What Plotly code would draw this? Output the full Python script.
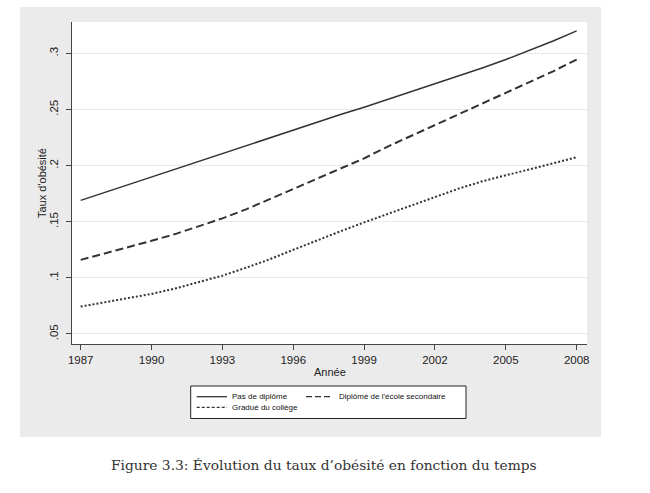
import plotly.graph_objects as go

years = list(range(1987, 2009))
pas_de_diplome = [0.169, 0.176, 0.183, 0.190, 0.197, 0.2035, 0.2105, 0.2175, 0.2245, 0.2315, 0.2385,
                  0.2455, 0.252, 0.259, 0.2655, 0.2725, 0.2795, 0.287, 0.2945, 0.3025, 0.311, 0.320]
diplome_secondaire = [0.116, 0.1215, 0.127, 0.133, 0.139, 0.146, 0.153, 0.161, 0.170, 0.179, 0.188,
                      0.197, 0.2065, 0.217, 0.2265, 0.236, 0.2455, 0.255, 0.2645, 0.274, 0.284, 0.2945]
gradue_college = [0.0744, 0.078, 0.0815, 0.0857, 0.0905, 0.096, 0.102, 0.109, 0.1165, 0.125, 0.1335,
                  0.1415, 0.1494, 0.157, 0.165, 0.1726, 0.1795, 0.186, 0.1915, 0.1965, 0.202, 0.2074]

series_names = ["Pas de diplôme", "Diplômé de l'école secondaire", "Gradué du collège"]
x_ticks = [1987, 1990, 1993, 1996, 1999, 2002, 2005, 2008]
y_ticks = [0.05, 0.1, 0.15, 0.2, 0.25, 0.3]
y_tick_labels = [".05", ".1", ".15", ".2", ".25", ".3"]

LINE = "#333333"
SANS = "Liberation Sans, Arial, sans-serif"
styles = [dict(color=LINE, width=1.5, dash="solid"),
          dict(color=LINE, width=2, dash="8px,4px"),
          dict(color=LINE, width=2, dash="2px,2px")]

fig = go.Figure()
for name, vals, st in zip(series_names, [pas_de_diplome, diplome_secondaire, gradue_college], styles):
    fig.add_trace(go.Scatter(x=years, y=vals, mode="lines", name=name, line=st, showlegend=False))

L, R, T, B = 72, 63, 22, 149
PW = 650 - L - R
PH = 493 - T - B


def px_x(px):
    return (px - L) / PW


def px_y(py):
    return (493 - B - py) / PH


# legend (drawn manually to get Stata's compact two-column box)
leg_items = [  # (name index, line x0, line x1, text x, row y, legend dash)
    (0, 196.7, 227, 230, 396.7, "solid"),
    (1, 306, 333, 337, 396.7, "6px,3px"),
    (2, 196.7, 227, 230, 407.3, "3px,2px"),
]
shapes = [
    dict(type="rect", xref="paper", yref="paper", x0=px_x(20), x1=px_x(601), y0=px_y(437), y1=px_y(7),
         fillcolor="#ebebeb", line=dict(width=0), layer="below"),
    dict(type="rect", xref="x domain", yref="y domain", x0=0, x1=1, y0=0, y1=1,
         fillcolor="white", line=dict(width=0), layer="below"),
    dict(type="rect", xref="paper", yref="paper", x0=px_x(190.7), x1=px_x(466), y0=px_y(418.5), y1=px_y(386),
         fillcolor="white", line=dict(width=1, color="#222222"), layer="above"),
]
annotations = [
    dict(text="Taux d'obésité", xref="paper", yref="paper", x=px_x(42), y=px_y(183),
         textangle=-90, showarrow=False, xanchor="center", yanchor="middle",
         font=dict(size=11, family=SANS, color="#222222")),
    dict(text="Année", xref="paper", yref="paper", x=px_x(329.5), y=px_y(372),
         showarrow=False, xanchor="center", yanchor="middle",
         font=dict(size=11, family=SANS, color="#222222")),
    dict(text="Figure 3.3: Évolution du taux d’obésité en fonction du temps", xref="paper", yref="paper",
         x=px_x(323.5), y=px_y(465), showarrow=False, xanchor="center", yanchor="middle",
         font=dict(size=13.8, family="DejaVu Serif, Liberation Serif, serif", color="#333333")),
]
for idx, lx0, lx1, tx, ry, dash in leg_items:
    shapes.append(dict(type="line", xref="paper", yref="paper", x0=px_x(lx0), x1=px_x(lx1),
                       y0=px_y(ry), y1=px_y(ry), line=dict(color=LINE, width=1.3, dash=dash),
                       layer="above"))
    annotations.append(dict(text=series_names[idx], xref="paper", yref="paper", x=px_x(tx), y=px_y(ry),
                            showarrow=False, xanchor="left", yanchor="middle",
                            font=dict(size=8, family=SANS, color="#111111")))

fig.update_layout(
    width=650, height=493,
    margin=dict(l=L, r=R, t=T, b=B, pad=0),
    paper_bgcolor="white",
    plot_bgcolor="white",
    showlegend=False,
    font=dict(family=SANS, size=11, color="#222222"),
    xaxis=dict(range=[1986.632, 2008.436], tickvals=x_ticks, ticktext=[str(v) for v in x_ticks],
               showgrid=False, zeroline=False, showline=True, linecolor="#444444", linewidth=1,
               ticks="outside", ticklen=5, tickcolor="#444444", tickwidth=1,
               tickfont=dict(size=11.5, family=SANS, color="#222222")),
    yaxis=dict(range=[0.04107, 0.32795], tickvals=y_ticks, ticktext=y_tick_labels, tickangle=-90,
               showgrid=True, gridcolor="#e9e9e9", gridwidth=1, zeroline=False,
               showline=True, linecolor="#444444", linewidth=1,
               ticks="outside", ticklen=5, tickcolor="#444444", tickwidth=1,
               ticklabelstandoff=3,
               tickfont=dict(size=11.5, family=SANS, color="#222222")),
    shapes=shapes,
    annotations=annotations,
)

fig.write_html("out.html")
